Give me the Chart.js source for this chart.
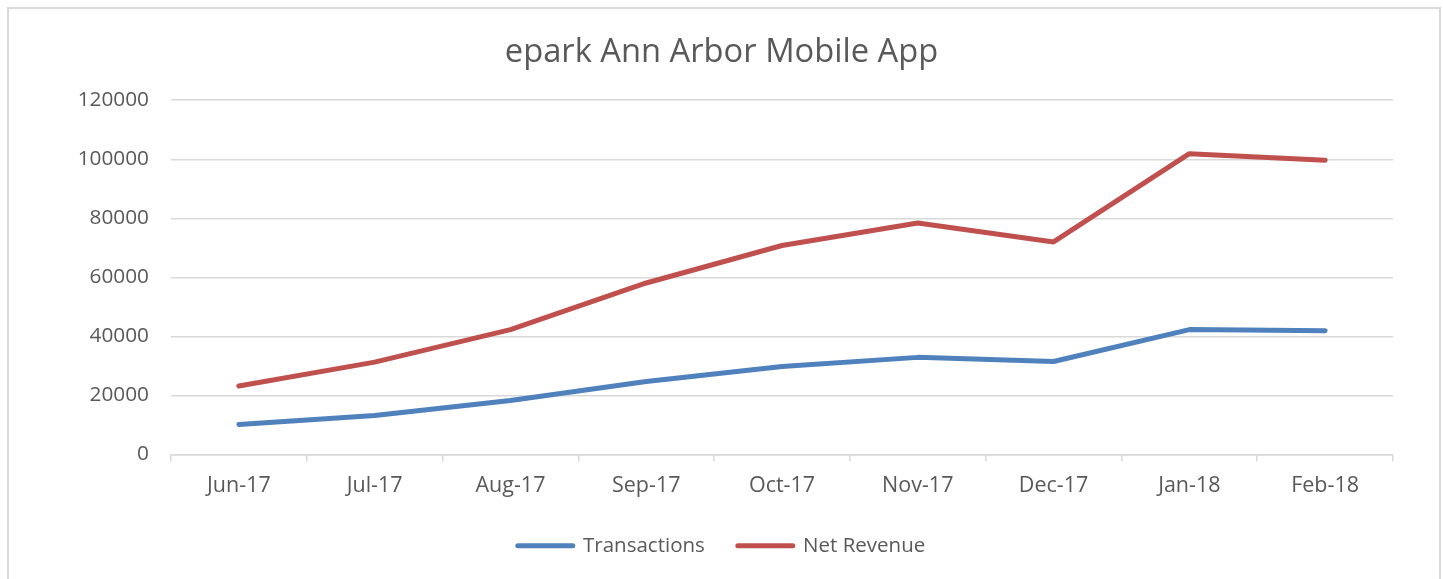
<!DOCTYPE html>
<html lang="en">
<head>
    <meta charset="UTF-8">
    <title>epark Ann Arbor Mobile App</title>
    <script src="https://cdn.jsdelivr.net/npm/chart.js"></script>
    <style>
        html, body { margin: 0; padding: 0; background: #fff; }
        #wrap { position: relative; width: 1443px; height: 579px; }
    </style>
</head>
<body>
    <div id="wrap"><canvas id="appChart"></canvas></div>

    <script>
        // month labels on the x axis
        const months = ['Jun-17', 'Jul-17', 'Aug-17', 'Sep-17', 'Oct-17', 'Nov-17', 'Dec-17', 'Jan-18', 'Feb-18'];

        // values
        const transactions = [10200, 13200, 18300, 24700, 29800, 32900, 31500, 42300, 41900];
        const netRevenue = [23200, 31300, 42300, 58100, 70800, 78400, 72000, 101900, 99700];

        const textColor = '#595959';
        const lineGrey = '#d9d9d9';

        // light grey frame like the spreadsheet chart box
        const framePlugin = {
            id: 'frame',
            beforeDraw(chart) {
                const c = chart.ctx;
                c.save();
                c.strokeStyle = lineGrey;
                c.lineWidth = 2;
                c.strokeRect(8, 8, 1432, 640);
                c.restore();
            }
        };

        const ctx = document.getElementById('appChart').getContext('2d');

        new Chart(ctx, {
            type: 'line',
            data: {
                labels: months,
                datasets: [
                    {
                        label: 'Transactions',
                        data: transactions,
                        borderColor: '#4f81bd',
                        backgroundColor: '#4f81bd',
                        borderWidth: 5,
                        borderCapStyle: 'round',
                        borderJoinStyle: 'round',
                        pointRadius: 0,
                        tension: 0
                    },
                    {
                        label: 'Net Revenue',
                        data: netRevenue,
                        borderColor: '#c0504d',
                        backgroundColor: '#c0504d',
                        borderWidth: 5,
                        borderCapStyle: 'round',
                        borderJoinStyle: 'round',
                        pointRadius: 0,
                        tension: 0
                    }
                ]
            },
            options: {
                responsive: true,
                maintainAspectRatio: false,
                animation: false,
                layout: { padding: { left: 0, right: 0, top: 0, bottom: 13 } },
                plugins: {
                    title: {
                        display: true,
                        text: 'epark Ann Arbor Mobile App',
                        color: textColor,
                        font: { family: 'Open Sans', size: 32.7, weight: 'normal' },
                        padding: { top: 33, bottom: 28 }
                    },
                    legend: {
                        position: 'bottom',
                        labels: {
                            color: textColor,
                            font: { family: 'Open Sans', size: 20.5 },
                            boxWidth: 55,
                            boxHeight: 0,
                            padding: 33
                        }
                    },
                    tooltip: { enabled: false }
                },
                scales: {
                    x: {
                        offset: true,
                        grid: {
                            offset: true,
                            drawOnChartArea: false,
                            drawTicks: true,
                            tickLength: 7,
                            color: lineGrey,
                            lineWidth: 1.5
                        },
                        border: { color: lineGrey, width: 1.5 },
                        ticks: {
                            color: textColor,
                            font: { family: 'Open Sans', size: 21.5 },
                            padding: 11,
                            maxRotation: 0
                        },
                        afterFit(scale) { scale.height = 48; }
                    },
                    y: {
                        min: 0,
                        max: 120000,
                        grid: { color: lineGrey, lineWidth: 1.5, drawTicks: false },
                        border: { display: false },
                        ticks: {
                            stepSize: 20000,
                            color: textColor,
                            font: { family: 'Open Sans', size: 20.8 },
                            padding: 22,
                            callback: v => String(v)
                        },
                        afterFit(scale) { scale.width = 171; }
                    },
                    // empty right axis, only keeps the plot off the right edge
                    yRight: {
                        position: 'right',
                        min: 0,
                        max: 120000,
                        grid: { drawOnChartArea: false, drawTicks: false },
                        border: { display: false },
                        ticks: { display: false },
                        afterFit(scale) { scale.width = 50; }
                    }
                }
            },
            plugins: [framePlugin]
        });
    </script>
</body>
</html>
